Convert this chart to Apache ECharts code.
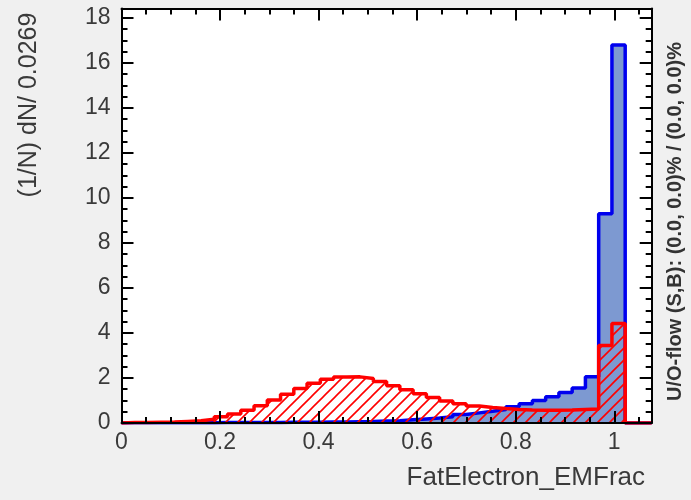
<!DOCTYPE html>
<html>
<head>
<meta charset="utf-8">
<script src="https://cdn.jsdelivr.net/npm/echarts/dist/echarts.min.js"></script>
<style>
html,body{margin:0;padding:0;background:#f0f0f0;}
#chart{width:691px;height:500px;}
</style>
</head>
<body>
<div id="chart"></div>
<script>
// ---- data: (1/N) dN / 0.0269 per bin, 40 bins starting at 0 ----
const binWidth = 0.0269;
const nBins = 40;
const signal = [
  0.01, 0.01, 0.01, 0.01, 0.01, 0.01, 0.01, 0.02, 0.02, 0.02,
  0.02, 0.02, 0.03, 0.03, 0.03, 0.04, 0.05, 0.06, 0.07, 0.09,
  0.10, 0.14, 0.18, 0.22, 0.28, 0.38, 0.45, 0.52, 0.60, 0.72,
  0.85, 1.00, 1.17, 1.35, 1.55, 2.05, 9.30, 16.80, 0.00, 0.00
];
const background = [
  0.02, 0.02, 0.03, 0.04, 0.07, 0.10, 0.17, 0.28, 0.40, 0.57,
  0.77, 1.02, 1.28, 1.53, 1.77, 1.94, 2.04, 2.05, 1.98, 1.84,
  1.66, 1.48, 1.30, 1.13, 0.98, 0.86, 0.76, 0.69, 0.64, 0.60,
  0.58, 0.57, 0.57, 0.58, 0.60, 0.62, 3.44, 4.42, 0.00, 0.00
];
const xMin = 0, xMax = nBins * binWidth;
const xMajor = 0.2, xMinor = 0.05;
const yMin = 0, yMax = 18.42;
const yMajor = 2, yMinor = 0.5;
const xTitle = 'FatElectron_EMFrac';
const yTitle = '(1/N) dN/ 0.0269';
const flowText = 'U/O-flow (S,B): (0.0, 0.0)% / (0.0, 0.0)%';

function stepData(vals) {
  const pts = [[0, 0]];
  vals.forEach((v, i) => pts.push([i * binWidth, v]));
  pts.push([vals.length * binWidth, vals[vals.length - 1]]);
  pts.push([vals.length * binWidth, 0]);
  return pts;
}

// red hatch pattern (transparent background)
const hatch = document.createElement('canvas');
hatch.width = 12; hatch.height = 12;
(function () {
  const g = hatch.getContext('2d');
  g.strokeStyle = '#ff0000';
  g.lineWidth = 1.6;
  g.beginPath();
  g.moveTo(-1, 13); g.lineTo(13, -1);
  g.moveTo(-7, 7); g.lineTo(7, -7);
  g.moveTo(5, 19); g.lineTo(19, 5);
  g.stroke();
})();

const labelColor = '#3a3a3a';
const gridBox = { left: 121.5, right: 39.3, top: 8.5, bottom: 77, outerBoundsMode: 'none', containLabel: false };

function mkX(grid, pos, interval, tickLen, showLabel, showLine) {
  return {
    type: 'value', gridIndex: grid, position: pos, min: xMin, max: xMax, interval: interval,
    z: 10,
    axisLine: { show: showLine, onZero: false, lineStyle: { color: '#000', width: 2 } },
    axisTick: { show: true, inside: true, length: tickLen, lineStyle: { color: '#000', width: 2 } },
    axisLabel: { show: showLabel, showMaxLabel: false, margin: 8, fontSize: 23, color: labelColor },
    splitLine: { show: false }
  };
}
function mkY(grid, pos, interval, tickLen, showLabel, showLine) {
  return {
    type: 'value', gridIndex: grid, position: pos, min: yMin, max: yMax, interval: interval,
    z: 10,
    axisLine: { show: showLine, onZero: false, lineStyle: { color: '#000', width: 2 } },
    axisTick: { show: true, inside: true, length: tickLen, lineStyle: { color: '#000', width: 2 } },
    axisLabel: { show: showLabel, showMaxLabel: false, margin: 11, fontSize: 23, color: labelColor },
    splitLine: { show: false }
  };
}
// invisible helper axis that only carries a title text
function nameAxis(grid, name, loc, align, style) {
  return {
    type: 'value', gridIndex: grid, min: 0, max: 1, z: 20,
    name: name, nameLocation: loc, nameGap: 0,
    nameRotate: style.rotate || 0,
    nameTextStyle: { fontSize: style.size, fontWeight: style.weight || 'normal', color: style.color,
      align: align, verticalAlign: 'middle' },
    axisLine: { show: false }, axisTick: { show: false }, axisLabel: { show: false }, splitLine: { show: false }
  };
}
function hiddenAxis(grid) {
  return { type: 'value', gridIndex: grid, min: 0, max: 1, show: false };
}

const chart = echarts.init(document.getElementById('chart'));
chart.setOption({
  animation: false,
  grid: [
    Object.assign({ show: true, backgroundColor: '#ffffff', borderWidth: 0 }, gridBox),
    Object.assign({ show: false }, gridBox),
    { left: 29, width: 1, top: 10, height: 190, outerBoundsMode: 'none', containLabel: false },
    { left: 600, right: 46, top: 477, bottom: 22, outerBoundsMode: 'none', containLabel: false },
    { left: 675, width: 1, top: 40, height: 363, outerBoundsMode: 'none', containLabel: false }
  ],
  xAxis: [
    mkX(0, 'bottom', xMajor, 12, true, true),
    mkX(0, 'top', xMajor, 12, false, true),
    mkX(1, 'bottom', xMinor, 6, false, false),
    mkX(1, 'top', xMinor, 6, false, false),
    hiddenAxis(2),
    nameAxis(3, xTitle, 'end', 'right', { size: 26, color: labelColor }),
    hiddenAxis(4)
  ],
  yAxis: [
    mkY(0, 'left', yMajor, 12, true, true),
    mkY(0, 'right', yMajor, 12, false, true),
    mkY(1, 'left', yMinor, 6, false, false),
    mkY(1, 'right', yMinor, 6, false, false),
    nameAxis(2, yTitle, 'middle', 'center', { size: 25, color: labelColor, rotate: 90 }),
    hiddenAxis(3),
    nameAxis(4, flowText, 'middle', 'center', { size: 20, weight: 'bold', color: '#333333', rotate: 90 })
  ],
  series: [
    {
      type: 'line', step: 'end', xAxisIndex: 0, yAxisIndex: 0,
      data: stepData(signal), symbol: 'none', z: 2,
      lineStyle: { color: '#0000ee', width: 3.5 },
      areaStyle: { color: '#7d99d1', opacity: 1 }
    },
    {
      type: 'line', step: 'end', xAxisIndex: 0, yAxisIndex: 0,
      data: stepData(background), symbol: 'none', z: 3,
      lineStyle: { color: '#ff0000', width: 3.5 },
      areaStyle: { color: { image: hatch, repeat: 'repeat' }, opacity: 1 }
    }
  ]
});
</script>
</body>
</html>
